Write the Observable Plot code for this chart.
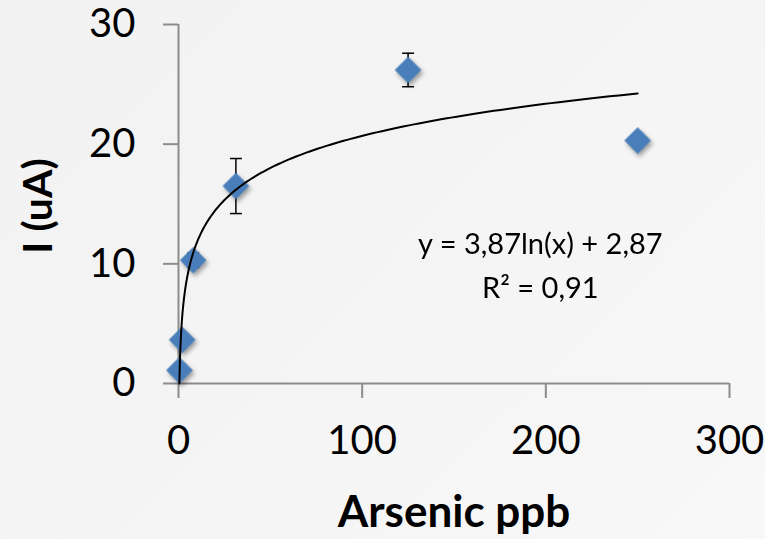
<!DOCTYPE html>
<html><head><meta charset="utf-8">
<script src="https://cdn.jsdelivr.net/npm/d3@7"></script>
<script src="https://cdn.jsdelivr.net/npm/@observablehq/plot@0.6"></script>
<style>
html,body{margin:0;padding:0;}
body{width:765px;height:539px;overflow:hidden;background:linear-gradient(135deg,#f2f2f2 0%,#f4f4f4 45%,#f8f8f8 100%);}
svg{display:block;}
</style></head><body><div id="chart"></div>
<script>
// Data
const arsenic = [0.5, 2, 8, 31.25, 125, 250];      // ppb
const current = [1.1, 3.65, 10.3, 16.5, 26.2, 20.3]; // uA
const errors  = [0, 0, 0.6, 2.3, 1.4, 0];
const xTicks = [0, 100, 200, 300];
const yTicks = [0, 10, 20, 30];
const fitA = 3.87, fitB = 2.87;   // y = a ln(x) + b
const fitText = "y = 3,87ln(x) + 2,87\nR² = 0,91";
const fitTextPos = {x: 197, y: 10.15};
const xLabel = "Arsenic ppb";
const yLabel = "I (uA)";

const points = arsenic.map((x, i) => ({x, y: current[i], e: errors[i]}));
const errPts = points.filter(d => d.e > 0);
const caps = errPts.flatMap(d => [{x: d.x, y: d.y + d.e}, {x: d.x, y: d.y - d.e}]);

const x0 = Math.exp(-fitB / fitA);
const x1 = d3.max(arsenic);
const fit = d3.range(0, 301).map(i => {
  const x = x0 * Math.pow(x1 / x0, i / 300);
  return {x, y: fitA * Math.log(x) + fitB};
});

const hline = {draw(ctx, size) { const r = Math.sqrt(size / Math.PI); ctx.moveTo(-r, 0); ctx.lineTo(r, 0); }};

const axisGray = "#8c8c8c";
const plot = Plot.plot({
  width: 765, height: 539,
  marginLeft: 178, marginRight: 36, marginTop: 24, marginBottom: 156,
  style: {fontFamily: "Lato, 'Open Sans', sans-serif", background: "transparent", color: "black"},
  x: {domain: [0, 300], ticks: xTicks},
  y: {domain: [0, 30], ticks: yTicks},
  marks: [
    Plot.ruleX([0], {stroke: axisGray, strokeWidth: 2}),
    Plot.ruleY([0], {stroke: axisGray, strokeWidth: 2}),
    Plot.axisY({ticks: yTicks, tickSize: 15, tickPadding: 28, fontSize: 40, stroke: axisGray, strokeWidth: 2, fill: "black", label: null, tickFormat: d => d}),
    Plot.axisX({ticks: xTicks, tickSize: 15, tickPadding: 27, fontSize: 40, stroke: axisGray, strokeWidth: 2, fill: "black", label: null, tickFormat: d => d}),
    Plot.ruleX(errPts, {x: "x", y1: d => d.y - d.e, y2: d => d.y + d.e, stroke: "black", strokeWidth: 1.5}),
    Plot.dot(caps, {x: "x", y: "y", symbol: hline, r: 6, stroke: "black", strokeWidth: 1.5, fill: "none"}),
    Plot.dot(points, {x: "x", y: "y", symbol: "diamond2", r: 12, fill: "#4a7ebb", stroke: "none",
      imageFilter: "drop-shadow(2px 3px 2px rgba(0,0,0,0.35))"}),
    Plot.line(fit, {x: "x", y: "y", stroke: "black", strokeWidth: 2, curve: "linear"}),
    Plot.text([fitText], {x: () => fitTextPos.x, y: () => fitTextPos.y, fontSize: 29, lineHeight: 1.5, lineAnchor: "middle", textAnchor: "middle", fill: "black"}),
    Plot.text([xLabel], {frameAnchor: "bottom", dy: 129, lineAnchor: "middle", textAnchor: "middle", fontSize: 44, fontWeight: "bold", fill: "black"}),
    Plot.text([yLabel], {frameAnchor: "left", dx: -140, dy: 2, rotate: -90, lineAnchor: "middle", textAnchor: "middle", fontSize: 41, fontWeight: "bold", fill: "black"})
  ]
});
document.getElementById("chart").appendChild(plot);
</script>
</body></html>
